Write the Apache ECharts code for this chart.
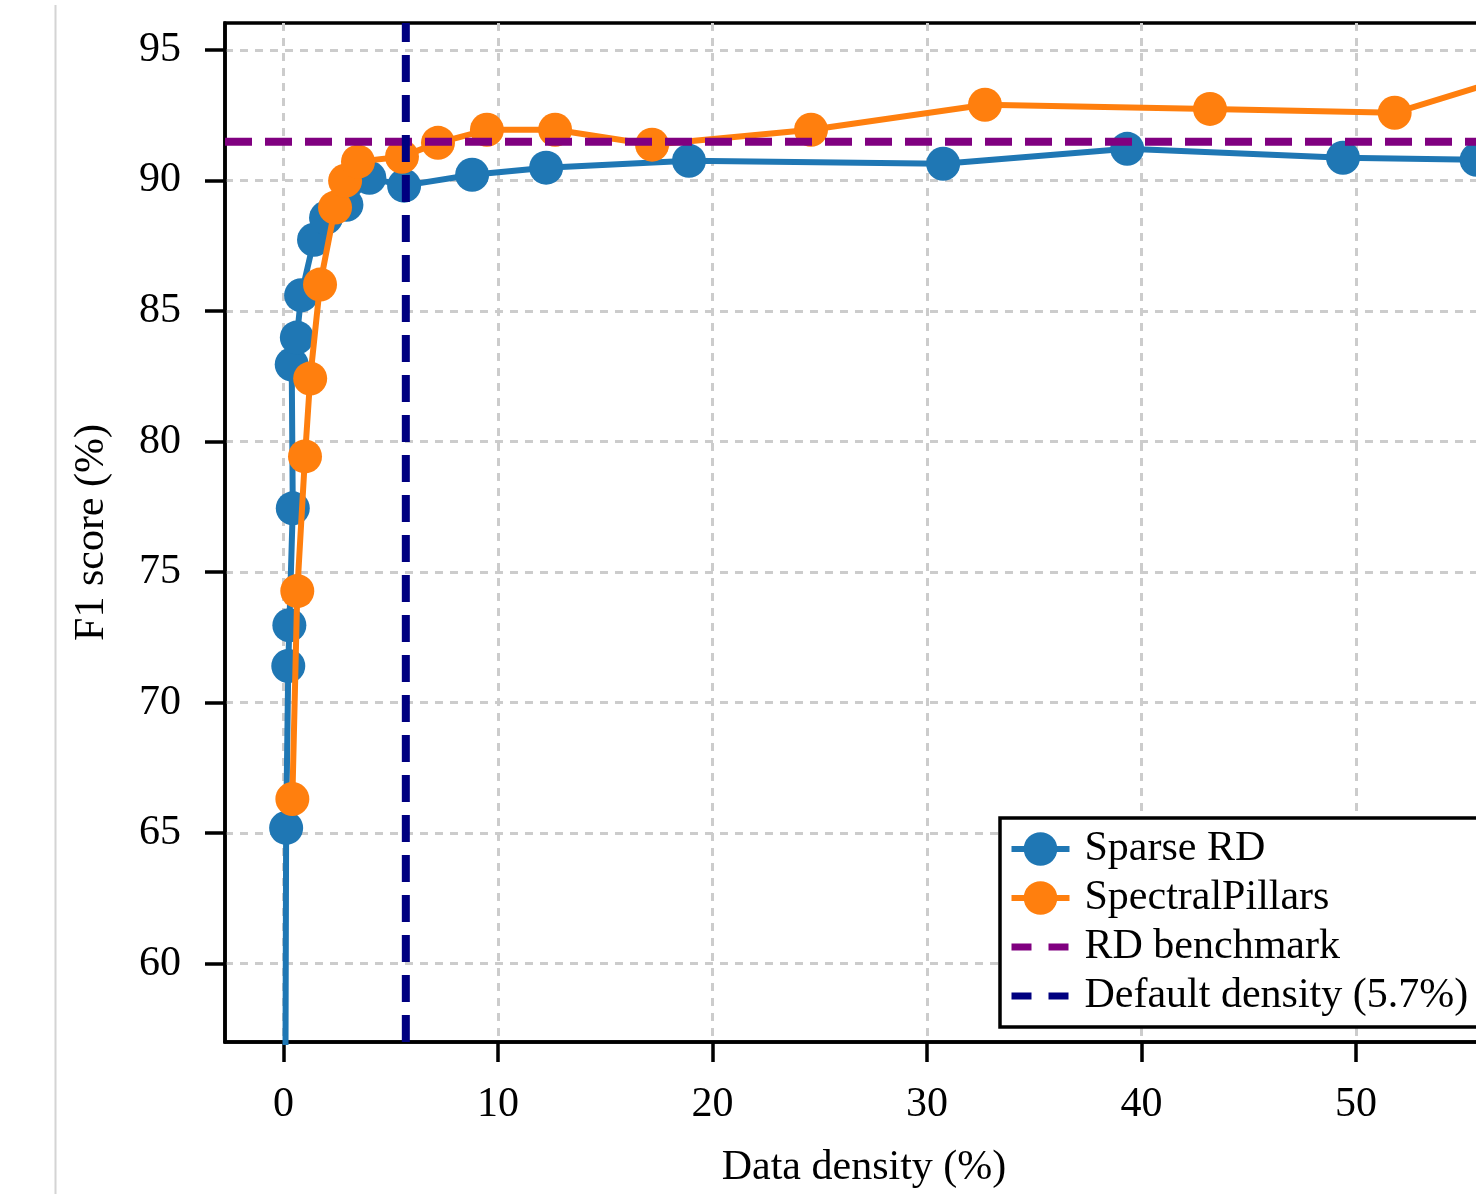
<!DOCTYPE html>
<html>
<head>
<meta charset="utf-8">
<script src="https://cdn.jsdelivr.net/npm/echarts@6/dist/echarts.min.js"></script>
<style>
html,body{margin:0;padding:0;overflow:hidden;background:#fff;}
#c{width:1530px;height:1194px;}
</style>
</head>
<body>
<div id="c"></div>
<script>
// ---- data ----
const sparseX = [0.05, 0.12, 0.22, 0.27, 0.43, 0.38, 0.62, 0.82, 1.42, 1.98, 2.93, 4.0, 5.62, 8.79, 12.24, 18.9, 30.75, 39.33, 49.39, 55.62];
const sparseY = [45.0, 65.2, 71.4, 72.96, 77.44, 82.95, 83.98, 85.6, 87.73, 88.57, 89.07, 90.1, 89.8, 90.22, 90.49, 90.75, 90.64, 91.21, 90.87, 90.79];
const spectralX = [0.41, 0.64, 1.0, 1.24, 1.7, 2.4, 2.87, 3.47, 5.52, 7.2, 9.48, 12.66, 17.18, 24.59, 32.7, 43.19, 51.8, 57.8];
const spectralY = [66.31, 74.27, 79.43, 82.41, 86.01, 88.96, 89.99, 90.72, 90.91, 91.44, 91.94, 91.94, 91.37, 91.94, 92.9, 92.74, 92.59, 94.1];
const rdBenchmark = 91.48;
const defaultDensity = 5.7;
const xTicks = [0, 10, 20, 30, 40, 50];
const yTicks = [60, 65, 70, 75, 80, 85, 90, 95];
const xRange = [-2.73, 56.85];
const yRange = [57.0, 96.03];
const seriesNames = ['Sparse RD', 'SpectralPillars', 'RD benchmark', 'Default density (5.7%)'];

const FONT = 'Liberation Serif';
const BLUE = '#1f77b4', ORANGE = '#ff7f0e', PURPLE = '#800080', NAVY = '#000080';
const zip = (a, b) => a.map((v, i) => [v, b[i]]);

const chart = echarts.init(document.getElementById('c'), null, {renderer: 'canvas'});
chart.setOption({
  animation: false,
  backgroundColor: '#ffffff',
  grid: {
    left: 225, top: 23, width: 1278, height: 1020,
    show: true, borderColor: '#000', borderWidth: 3.5, backgroundColor: 'transparent'
  },
  xAxis: {
    type: 'value', min: xRange[0], max: xRange[1],
    name: 'Data density (%)', nameLocation: 'middle', nameGap: 105,
    nameTextStyle: {fontFamily: FONT, fontSize: 42, color: '#000'},
    axisLine: {show: true, onZero: false, lineStyle: {color: '#000', width: 3.5}},
    axisTick: {show: true, inside: false, length: 20, lineStyle: {color: '#000', width: 3.5}, customValues: xTicks},
    axisLabel: {fontFamily: FONT, fontSize: 42, color: '#000', margin: 42, customValues: xTicks},
    splitLine: {show: true, lineStyle: {color: '#cccccc', width: 3, type: [8, 7]}}
  },
  yAxis: {
    type: 'value', min: yRange[0], max: yRange[1],
    name: 'F1 score (%)', nameLocation: 'middle', nameGap: 112, nameRotate: 90,
    nameTextStyle: {fontFamily: FONT, fontSize: 42, color: '#000'},
    axisLine: {show: true, onZero: false, lineStyle: {color: '#000', width: 3.5}},
    axisTick: {show: true, inside: false, length: 20, lineStyle: {color: '#000', width: 3.5}, customValues: yTicks},
    axisLabel: {fontFamily: FONT, fontSize: 42, color: '#000', margin: 44, customValues: yTicks},
    splitLine: {show: true, lineStyle: {color: '#cccccc', width: 3, type: [8, 7]}}
  },
  legend: {
    left: 1000, top: 818, orient: 'vertical',
    backgroundColor: '#fff', borderColor: '#000', borderWidth: 3.5, borderRadius: 0,
    padding: [10, 14, 10, 8],
    itemWidth: 58, itemHeight: 42, itemGap: 7,
    textStyle: {fontFamily: FONT, fontSize: 42, color: '#000', padding: [0, 0, 0, 10]},
    lineStyle: {width: 6},
    data: [
      {name: seriesNames[0]},
      {name: seriesNames[1]},
      {name: seriesNames[2], itemStyle: {color: 'rgba(0,0,0,0)', borderWidth: 0}, lineStyle: {width: 7, type: [20, 17]}},
      {name: seriesNames[3], itemStyle: {color: 'rgba(0,0,0,0)', borderWidth: 0}, lineStyle: {width: 7, type: [20, 17]}}
    ]
  },
  graphic: [{
    type: 'line', shape: {x1: 55.5, y1: 5, x2: 55.5, y2: 1194},
    style: {stroke: '#d4d4d4', lineWidth: 2}, silent: true
  }],
  series: [
    {
      name: seriesNames[0], type: 'line', data: zip(sparseX, sparseY),
      symbol: 'circle', symbolSize: 34, showAllSymbol: true,
      lineStyle: {color: BLUE, width: 6}, itemStyle: {color: BLUE}, clip: true, z: 2
    },
    {
      name: seriesNames[1], type: 'line', data: zip(spectralX, spectralY),
      symbol: 'circle', symbolSize: 34, showAllSymbol: true,
      lineStyle: {color: ORANGE, width: 6}, itemStyle: {color: ORANGE}, clip: true, z: 3
    },
    {
      name: seriesNames[2], type: 'line', data: [[xRange[0], rdBenchmark], [xRange[1], rdBenchmark]],
      symbol: 'none', lineStyle: {color: PURPLE, width: 8, type: [27, 13]}, itemStyle: {color: PURPLE}, z: 5
    },
    {
      name: seriesNames[3], type: 'line', data: [[defaultDensity, yRange[0]], [defaultDensity, yRange[1]]],
      symbol: 'none', lineStyle: {color: NAVY, width: 8, type: [27, 13]}, itemStyle: {color: NAVY}, z: 6
    }
  ]
});
</script>
</body>
</html>
